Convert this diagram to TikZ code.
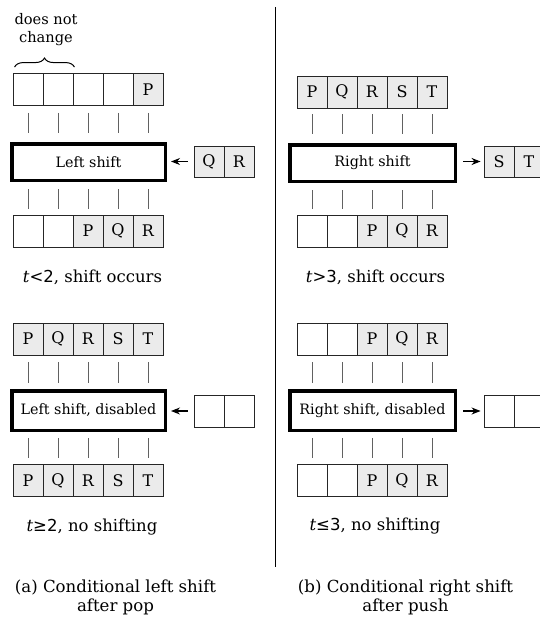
\documentclass[tikz,border=0pt]{standalone}
\usepackage{fontspec}
\setmainfont{DejaVu Serif}
\newfontfamily\dvsans{DejaVu Sans}
\usetikzlibrary{arrows.meta,decorations.pathreplacing,calc}
\tikzset{
  cell/.style={draw=black!85, line width=0.9pt, minimum width=30pt, minimum height=32pt,
    inner sep=0pt, font=\fontsize{16}{18}\selectfont},
  fullcell/.style={cell, fill=black!8},
  emptycell/.style={cell},
  shiftbox/.style={draw=black, line width=3.5pt, inner sep=0pt, minimum height=36.5pt,
    font=\fontsize{14.3}{17}\selectfont},
  tickline/.style={draw=black!62, line width=0.9pt},
  arr/.style={-{Stealth[length=9pt,width=7pt]}, line width=1.1pt},
  lab/.style={font=\fontsize{16.5}{19}\selectfont, inner sep=0pt},
  captext/.style={font=\fontsize{16.6}{19}\selectfont, align=center, inner sep=0pt},
}
\begin{document}
\begin{tikzpicture}[x=1pt,y=-1pt]
\clip (0,0) rectangle (540,626);
\fill[white] (0,0) rectangle (540,626);

% ---------------- left, top block ----------------
\foreach \s/\t [count=\i] in {emptycell/{},emptycell/{},emptycell/{},emptycell/{},fullcell/P}
  \node[\s] (LAt\i) at (-2+30*\i,89.5) {\t};
\node[shiftbox, minimum width=153.5pt] (LAb) at (88.5,162) {Left shift};
\foreach \s/\t [count=\i] in {emptycell/{},emptycell/{},fullcell/P,fullcell/Q,fullcell/R}
  \node[\s] (LAu\i) at (-2+30*\i,231) {\t};
\foreach \i in {1,...,5} {
  \draw[tickline] ($(LAt\i.south)+(0,7)$) -- ++(0,20);
  \draw[tickline] ($(LAb.south -| LAu\i)+(0,7)$) -- ++(0,20);
}
\node[fullcell, minimum height=31pt] (LAq1) at (209,161.5) {Q};
\node[fullcell, minimum height=31pt] (LAq2) at (239,161.5) {R};
\draw[arr, shorten <=6pt, shorten >=4pt] (LAq1.west) -- (LAq1.west -| LAb.east);
\node[lab] (LAl) at (92.5,277) {\textit{t}{\dvsans<2}, shift occurs};
\draw[decorate, decoration={brace, amplitude=9pt}, line width=1pt]
  ($(LAt1.north west)+(2,-6)$) coordinate (bra) -- ($(LAt2.north east)+(1,-6)$) coordinate (brb);
\node[font=\fontsize{14.6}{18}\selectfont, align=center, inner sep=0pt] (dnc) at (46,30) {does not\\change};

% ---------------- left, bottom block ----------------
\foreach \s/\t [count=\i] in {fullcell/P,fullcell/Q,fullcell/R,fullcell/S,fullcell/T}
  \node[\s] (LBt\i) at (-2+30*\i,339) {\t};
\node[shiftbox, minimum width=153.5pt, minimum height=39.5pt] (LBb) at (88.5,410.5) {Left shift, disabled};
\foreach \s/\t [count=\i] in {fullcell/P,fullcell/Q,fullcell/R,fullcell/S,fullcell/T}
  \node[\s] (LBu\i) at (-2+30*\i,480.5) {\t};
\foreach \i in {1,...,5} {
  \draw[tickline] ($(LBt\i.south)+(0,7)$) -- ++(0,21);
  \draw[tickline] ($(LBb.south -| LBu\i)+(0,6)$) -- ++(0,20);
}
\node[emptycell] (LBq1) at (209,411) {};
\node[emptycell] (LBq2) at (239,411) {};
\draw[arr, shorten <=6pt, shorten >=4pt] (LBq1.west) -- (LBq1.west -| LBb.east);
\node[lab] (LBl) at (92,527) {\textit{t}{\dvsans≥2}, no shifting};

% ---------------- divider ----------------
\draw[line width=1.5pt] (275.5,7) coordinate (d1) -- (275.5,567) coordinate (d2);

% ---------------- right, top block ----------------
\foreach \s/\t [count=\i] in {fullcell/P,fullcell/Q,fullcell/R,fullcell/S,fullcell/T}
  \node[\s] (RAt\i) at (282+30*\i,92) {\t};
\node[shiftbox, minimum width=165.5pt] (RAb) at (372.5,163) {Right shift};
\foreach \s/\t [count=\i] in {emptycell/{},emptycell/{},fullcell/P,fullcell/Q,fullcell/R}
  \node[\s] (RAu\i) at (282+30*\i,231) {\t};
\foreach \i in {1,...,5} {
  \draw[tickline] ($(RAt\i.south)+(0,6)$) -- ++(0,20);
  \draw[tickline] ($(RAb.south -| RAu\i)+(0,7)$) -- ++(0,19);
}
\node[fullcell, minimum height=31pt] (RAs1) at (499,161.5) {S};
\node[fullcell, minimum height=31pt] (RAs2) at (529,161.5) {T};
\draw[arr, shorten <=6pt, shorten >=3pt] (RAs1.west -| RAb.east) -- (RAs1.west);
\node[lab] (RAl) at (375.5,277) {\textit{t}{\dvsans>3}, shift occurs};

% ---------------- right, bottom block ----------------
\foreach \s/\t [count=\i] in {emptycell/{},emptycell/{},fullcell/P,fullcell/Q,fullcell/R}
  \node[\s] (RBt\i) at (282+30*\i,339) {\t};
\node[shiftbox, minimum width=165.5pt, minimum height=39.5pt] (RBb) at (372.5,410.5) {Right shift, disabled};
\foreach \s/\t [count=\i] in {emptycell/{},emptycell/{},fullcell/P,fullcell/Q,fullcell/R}
  \node[\s] (RBu\i) at (282+30*\i,480.5) {\t};
\foreach \i in {1,...,5} {
  \draw[tickline] ($(RBt\i.south)+(0,7)$) -- ++(0,21);
  \draw[tickline] ($(RBb.south -| RBu\i)+(0,6)$) -- ++(0,20);
}
\node[emptycell] (RBs1) at (499,411) {};
\node[emptycell] (RBs2) at (529,411) {};
\draw[arr, shorten <=6pt, shorten >=3pt] (RBs1.west -| RBb.east) -- (RBs1.west);
\node[lab] (RBl) at (375,526) {\textit{t}{\dvsans≤3}, no shifting};

% ---------------- captions ----------------
\node[captext] (capa) at (115.5,597.5) {(a) Conditional left shift\\after pop};
\node[captext] (capb) at (405.5,597.5) {(b) Conditional right shift\\after push};
\end{tikzpicture}
\end{document}
